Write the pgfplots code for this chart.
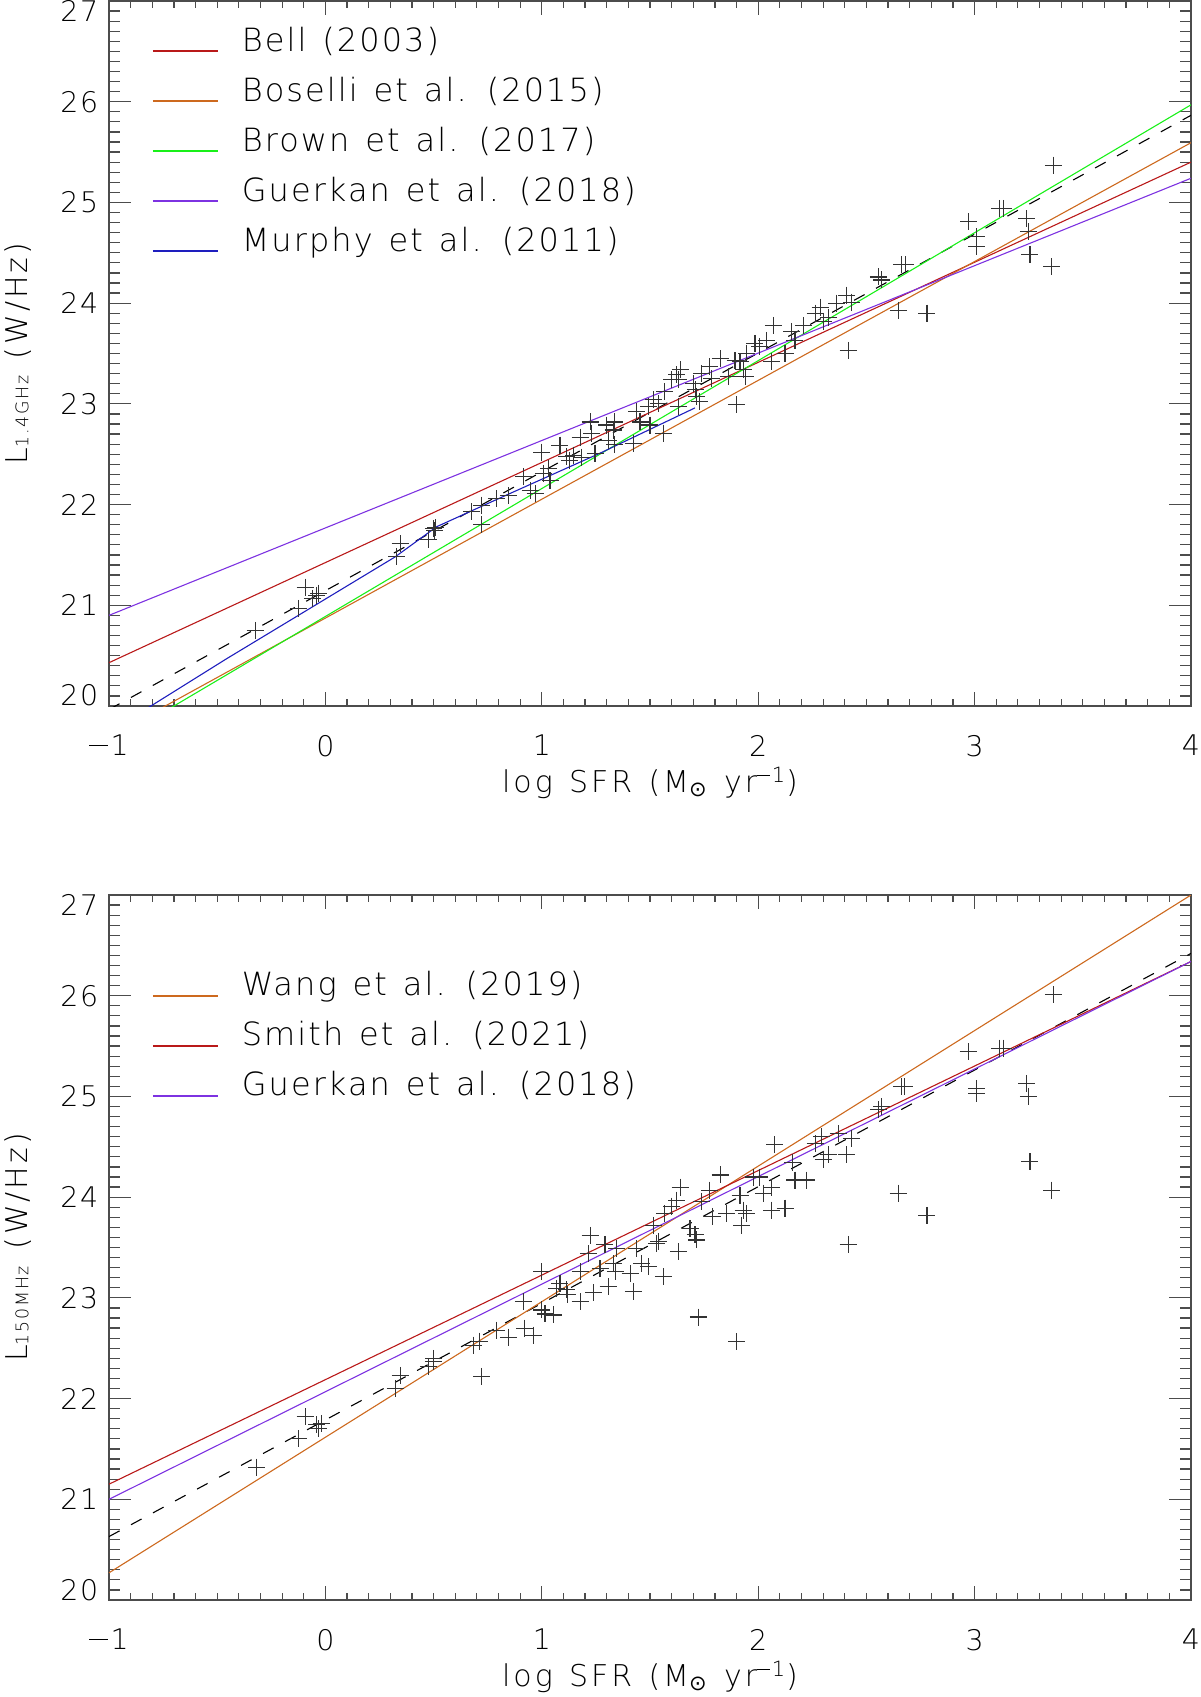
\documentclass[border=0pt]{standalone}
\usepackage{fontspec}
\setmainfont{DejaVu Sans ExtraLight}[LetterSpace=6.5, WordSpace=1.3]
\newfontfamily\symfont{DejaVu Sans}
\usepackage{pgfplots}
\usepackage{pgfplotstable}
\pgfplotsset{compat=1.18}
\definecolor{cBell}{RGB}{185,25,25}
\definecolor{cBos}{RGB}{205,105,30}
\definecolor{cBrown}{RGB}{25,240,25}
\definecolor{cGuer}{RGB}{125,50,225}
\definecolor{cMur}{RGB}{30,30,190}
\newcommand\mn{\rule[0.33em]{0.65em}{0.5pt}\hspace{0.1em}}

\pgfplotstableread{
x y
-0.325 20.75
-0.125 20.97
-0.094 21.18
-0.04 21.10
-0.06 21.07
-0.03 21.12
0.329 21.48
0.345 21.61
0.476 21.65
0.499 21.76
0.51 21.77
0.505 21.74
0.676 21.93
0.722 21.995
0.722 21.80
0.79 22.06
0.845 22.09
0.915 22.28
0.946 22.14
0.969 22.11
1.0 22.52
1.007 22.31
1.03 22.36
1.038 22.24
1.084 22.59
1.115 22.475
1.13 22.44
1.146 22.49
1.177 22.67
1.185 22.47
1.223 22.82
1.23 22.71
1.246 22.51
1.30 22.79
1.307 22.64
1.33 22.74
1.338 22.82
1.338 22.60
1.423 22.61
1.438 22.92
1.454 22.82
1.50 22.79
1.492 22.97
1.515 23.04
1.538 23.00
1.562 22.71
1.569 23.12
1.60 23.24
1.623 23.29
1.639 23.34
1.63 23.24
1.63 22.97
1.70 23.20
1.715 23.07
1.73 23.02
1.71 23.14
1.738 23.30
1.777 23.37
1.785 23.25
1.824 23.45
1.862 23.27
1.90 22.99
1.893 23.43
1.916 23.42
1.93 23.34
1.946 23.50
1.94 23.27
1.985 23.60
2.008 23.57
2.04 23.63
2.06 23.42
2.07 23.78
2.124 23.50
2.155 23.72
2.17 23.63
2.209 23.78
2.263 23.90
2.286 23.96
2.30 23.82
2.324 23.86
2.363 24.00
2.41 24.08
2.43 24.01
2.416 23.53
2.555 24.26
2.57 24.23
2.647 23.93
2.663 24.38
2.68 24.38
2.78 23.90
2.973 24.81
3.01 24.66
3.01 24.56
3.117 24.94
3.133 24.94
3.24 24.84
3.248 24.71
3.256 24.48
3.356 24.36
3.364 25.37
}\toptab

\pgfplotstableread{
x y
-0.317 21.32
-0.125 21.60
-0.094 21.82
-0.04 21.74
-0.033 21.70
-0.02 21.75
0.322 22.10
0.345 22.23
0.476 22.32
0.499 22.37
0.50 22.40
0.683 22.53
0.714 22.57
0.722 22.22
0.79 22.68
0.845 22.61
0.915 22.96
0.922 22.70
0.961 22.63
1.0 23.26
1.0 22.88
1.015 22.84
1.053 22.83
1.069 23.095
1.084 23.14
1.115 23.08
1.12 23.03
1.177 23.26
1.177 22.96
1.223 23.62
1.215 23.44
1.238 23.05
1.269 23.29
1.292 23.53
1.307 23.11
1.33 23.34
1.34 23.26
1.346 23.49
1.408 23.24
1.423 23.06
1.438 23.49
1.462 23.34
1.492 23.31
1.515 23.72
1.53 23.54
1.54 23.56
1.562 23.21
1.569 23.84
1.60 23.91
1.623 23.97
1.639 24.10
1.631 23.46
1.685 23.69
1.708 23.625
1.715 23.575
1.723 22.81
1.738 23.96
1.777 24.07
1.79 23.81
1.824 24.22
1.854 23.84
1.90 22.565
1.916 24.02
1.924 23.72
1.93 23.87
1.946 23.84
1.977 24.20
2.008 24.20
2.024 24.04
2.062 24.10
2.062 23.87
2.077 24.52
2.124 23.89
2.16 24.34
2.17 24.17
2.224 24.17
2.263 24.535
2.293 24.60
2.30 24.37
2.324 24.42
2.37 24.63
2.41 24.42
2.416 23.53
2.43 24.585
2.555 24.87
2.57 24.90
2.647 24.04
2.663 25.10
2.678 25.10
2.78 23.82
2.97 25.445
3.01 25.08
3.01 25.03
3.117 25.48
3.133 25.48
3.24 25.13
3.248 25.00
3.256 24.35
3.356 24.07
3.364 26.01
}\bottab

\pgfplotsset{
  panel/.style={
    scale only axis, width=541pt, height=352.5pt,
    anchor=south west,
    xmin=-1, xmax=4, ymin=20, ymax=27,
    xtick={-1,0,1,2,3,4}, xticklabels={\mn 1,0,1,2,3,4},
    ytick={20,21,22,23,24,25,26,27},
    yticklabels={\raisebox{0pt}[0pt][0pt]{20},21,22,23,24,25,26,\raisebox{-0.73em}[0pt][0pt]{27}},
    minor x tick num=9, minor y tick num=9,
    major tick length=10.8pt, minor tick length=5.4pt,
    xtick style={/pgfplots/major tick length=7pt, /pgfplots/minor tick length=3.5pt},
    axis line style={black!70, line width=0.7pt},
    tick style={black!70, line width=0.6pt},
    tick label style={font=\fontsize{14.2}{17}\selectfont},
    xticklabel style={yshift=-11pt},
    yticklabel style={xshift=-1.8pt},
    label style={font=\fontsize{15}{18}\selectfont\addfontfeature{LetterSpace=10}},
    xlabel={log SFR (M\textsubscript{\symfont ⊙} yr\textsuperscript{\rule[0.3em]{0.6em}{0.45pt}\hspace{0.1em}1})},
    xlabel style={at={(axis description cs:0.5,-0.109)}, anchor=center},
    legend style={draw=none, fill=none, inner sep=0pt, outer sep=0pt,
      font=\fontsize{16}{19}\selectfont,
      nodes={inner sep=0pt, text height=12pt, text depth=3pt},
      /tikz/row sep=10pt, /tikz/column sep=11.5pt},
    legend cell align=left,
    legend image code/.code={\draw[#1, line width=0.9pt] (0pt,-4.5pt) -- (32.5pt,-4.5pt);},
    fitline/.style={line width=0.55pt},
    dataplus/.style={only marks, mark=+, mark size=4.25pt,
      mark options={line width=0.55pt, draw=black!80}},
  }
}

\begin{document}
\begin{tikzpicture}
\begin{axis}[panel, at={(0pt,0pt)},
  ylabel={L\raisebox{-0.5pt}{\fontsize{8.7}{10}\selectfont 1.4GHz} (W/Hz)},
  ylabel style={at={(axis description cs:-0.0841,0.5)}, anchor=center},
  legend style={at={(axis description cs:0.0397,0.9631)}, anchor=north west}]
\addplot[dataplus, forget plot] table {\toptab};
\addplot[fitline, black, dash pattern=on 6pt off 6.5pt, forget plot] coordinates {(-1,19.965) (4,25.865)};
\addplot[fitline, cBell] coordinates {(-1,20.43) (4,25.40)};
\addlegendentry{Bell (2003)}
\addplot[fitline, cBos] coordinates {(-1,19.693) (4,25.593)};
\addlegendentry{Boselli et al. (2015)}
\addplot[fitline, cBrown] coordinates {(-1,19.619) (4,25.969)};
\addlegendentry{Brown et al. (2017)}
\addplot[fitline, cGuer] coordinates {(-1,20.90) (4,25.24)};
\addlegendentry{Guerkan et al. (2018)}
\addplot[fitline, cMur] coordinates {(-1,19.74) (-0.456,20.47) (0.322,21.48) (0.514,21.78) (0.683,21.945) (0.853,22.11) (1.269,22.51) (1.708,22.96)};
\addlegendentry{Murphy et al. (2011)}
\end{axis}

\begin{axis}[panel, at={(0pt,-447pt)},
  ylabel={L\raisebox{-0.5pt}{\fontsize{8.7}{10}\selectfont 150MHz} (W/Hz)},
  ylabel style={at={(axis description cs:-0.0841,0.5)}, anchor=center},
  legend style={at={(axis description cs:0.0397,0.8911)}, anchor=north west}]
\addplot[dataplus, forget plot] table {\bottab};
\addplot[fitline, black, dash pattern=on 6pt off 6.5pt, forget plot] coordinates {(-1,20.63) (4,26.42)};
\addplot[fitline, cBos] coordinates {(-1,20.27) (4,27.0)};
\addlegendentry{Wang et al. (2019)}
\addplot[fitline, cBell] coordinates {(-1,21.15) (4,26.34)};
\addlegendentry{Smith et al. (2021)}
\addplot[fitline, cGuer] coordinates {(-1,21.0) (4,26.34)};
\addlegendentry{Guerkan et al. (2018)}
\end{axis}
\pgfresetboundingbox
\path[use as bounding box] (-54.5pt,-495.5pt) rectangle (545.5pt,353pt);
\end{tikzpicture}
\end{document}
